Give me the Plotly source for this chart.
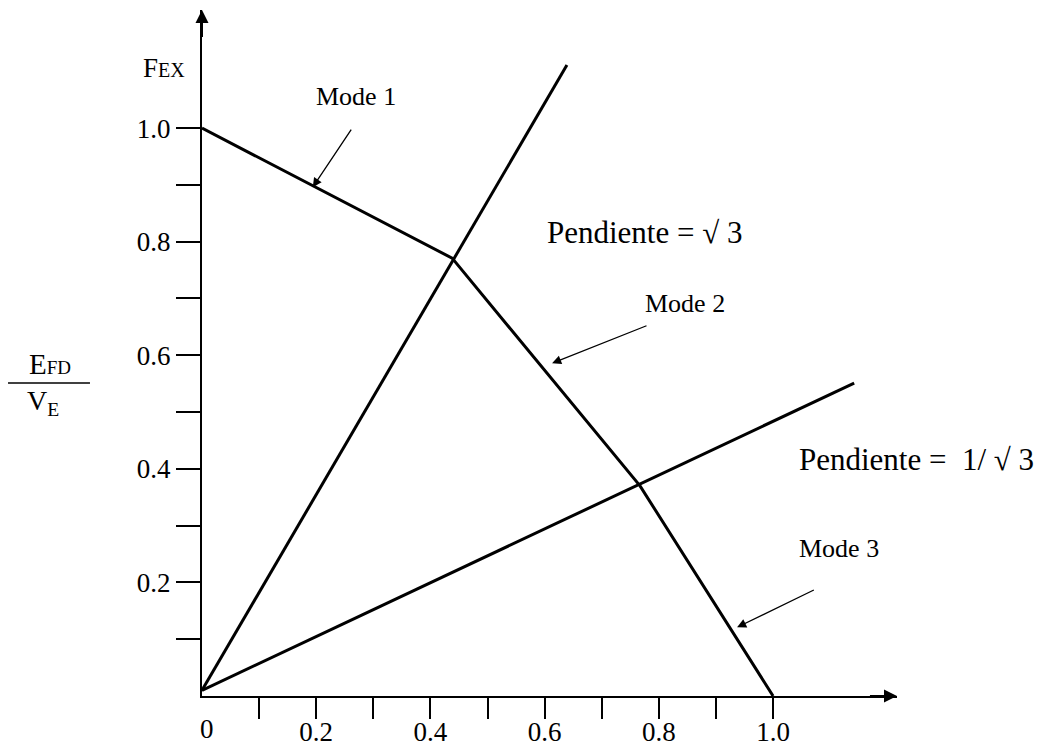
import plotly.graph_objects as go

# Operating-region boundary (modes 1-3) and the two slope lines
boundary_x = [0.0, 0.438, 0.767, 1.0]
boundary_y = [1.0, 0.771, 0.370, 0.0]

steep_x = [0.0, 0.639]
steep_y = [0.01, 1.111]

shallow_x = [0.0, 1.142]
shallow_y = [0.01, 0.551]

# Axis ticks
major_vals = [0.2, 0.4, 0.6, 0.8, 1.0]
major_text = ["0.2", "0.4", "0.6", "0.8", "1.0"]
minor_vals = [0.1, 0.3, 0.5, 0.7, 0.9]

# Mode labels and their pointer arrows (tail -> tip)
mode_labels = ["Mode 1", "Mode 2", "Mode 3"]
mode_label_x = [0.27, 0.846, 1.116]
mode_label_y = [1.055, 0.692, 0.259]
mode_tail_x = [0.263, 0.781, 1.074]
mode_tail_y = [1.0, 0.653, 0.188]
mode_tip_x = [0.194, 0.613, 0.937]
mode_tip_y = [0.896, 0.586, 0.121]

X_MAX = 1.217
Y_MAX = 1.208
SERIF = "Liberation Serif, Times New Roman, serif"

fig = go.Figure()

line_style = dict(color="black", width=3)
for xs, ys in [(boundary_x, boundary_y), (steep_x, steep_y), (shallow_x, shallow_y)]:
    fig.add_trace(go.Scatter(x=xs, y=ys, mode="lines", line=line_style,
                             cliponaxis=False, hoverinfo="skip"))

axis_common = dict(
    showline=True, linecolor="black", linewidth=2,
    showgrid=False, zeroline=False, automargin=False,
    tickmode="array", tickvals=major_vals, ticktext=major_text,
    ticks="outside", tickcolor="black", tickwidth=2,
    tickfont=dict(family=SERIF, size=27, color="black"),
    fixedrange=True,
)

fig.update_xaxes(range=[0, X_MAX], ticklen=21, ticklabelstandoff=-10,
                 minor=dict(tickmode="array", tickvals=minor_vals, ticks="outside",
                            ticklen=21, tickcolor="black", tickwidth=2),
                 **axis_common)
fig.update_yaxes(range=[0, Y_MAX], ticklen=24,
                 minor=dict(tickmode="array", tickvals=minor_vals, ticks="outside",
                            ticklen=24, tickcolor="black", tickwidth=2),
                 **axis_common)

annotations = []

# Arrowheads at the ends of both axes
annotations.append(dict(x=X_MAX * 0.99999, y=0, ax=X_MAX - 0.05, ay=0,
                        xref="x", yref="y", axref="x", ayref="y", text="",
                        showarrow=True, arrowhead=2, arrowsize=1.3, arrowwidth=2,
                        arrowcolor="black"))
annotations.append(dict(x=0, y=Y_MAX * 0.99999, ax=0, ay=Y_MAX - 0.05,
                        xref="x", yref="y", axref="x", ayref="y", text="",
                        showarrow=True, arrowhead=2, arrowsize=1.3, arrowwidth=2,
                        arrowcolor="black"))

# Origin label on the horizontal axis
annotations.append(dict(x=0, y=0, xref="x", yref="paper", text="0",
                        showarrow=False, xanchor="center", yanchor="top",
                        xshift=5, yshift=-16,
                        font=dict(family=SERIF, size=27, color="black")))

# Mode labels with pointer arrows
for txt, lx, ly, tx, ty, px, py in zip(mode_labels, mode_label_x, mode_label_y,
                                        mode_tail_x, mode_tail_y, mode_tip_x, mode_tip_y):
    annotations.append(dict(x=lx, y=ly, xref="x", yref="y", text=txt,
                            showarrow=False, xanchor="center", yanchor="middle",
                            font=dict(family=SERIF, size=26, color="black")))
    annotations.append(dict(x=px, y=py, ax=tx, ay=ty, xref="x", yref="y",
                            axref="x", ayref="y", text="", showarrow=True,
                            arrowhead=2, arrowsize=1.4, arrowwidth=1.3,
                            arrowcolor="black"))

# Slope annotations
annotations.append(dict(x=0.601, y=0.817, xref="x", yref="y",
                        text="Pendiente = √ 3", showarrow=False,
                        xanchor="left", yanchor="middle",
                        font=dict(family=SERIF, size=31, color="black")))
annotations.append(dict(x=1.042, y=0.417, xref="x", yref="y",
                        text="Pendiente =  1/ √ 3", showarrow=False,
                        xanchor="left", yanchor="middle",
                        font=dict(family=SERIF, size=31, color="black")))

# Axis names
annotations.append(dict(x=-0.088, y=0.9155, xref="paper", yref="paper",
                        text="F<span style='font-size:20px'>EX</span>",
                        showarrow=False, xanchor="left", yanchor="middle",
                        font=dict(family=SERIF, size=27, color="black")))
annotations.append(dict(x=-0.2194, y=0.4845, xref="paper", yref="paper",
                        text="E<span style='font-size:19px'>FD</span>",
                        showarrow=False, xanchor="center", yanchor="middle",
                        font=dict(family=SERIF, size=29, color="black")))
annotations.append(dict(x=-0.2281, y=0.428, xref="paper", yref="paper",
                        text="V<sub>E</sub>",
                        showarrow=False, xanchor="center", yanchor="middle",
                        font=dict(family=SERIF, size=28, color="black")))

shapes = [dict(type="line", xref="paper", yref="paper",
               x0=-0.2791, x1=-0.1612, y0=0.4563, y1=0.4563,
               line=dict(color="black", width=1.5))]

fig.update_layout(
    width=1040, height=747,
    margin=dict(l=202, r=143, t=10, b=51),
    paper_bgcolor="white", plot_bgcolor="white",
    showlegend=False,
    annotations=annotations,
    shapes=shapes,
)

fig.write_html("out.html")
